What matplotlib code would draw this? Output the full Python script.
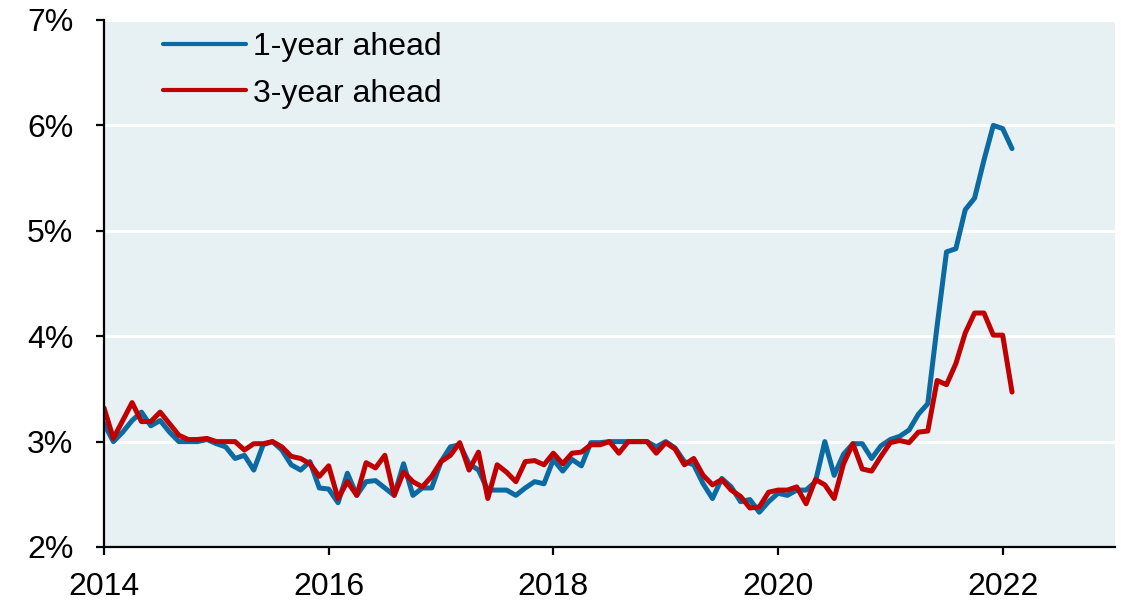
import numpy as np
import matplotlib
matplotlib.use('Agg')
import matplotlib.pyplot as plt
from matplotlib.ticker import FuncFormatter

# monthly readings, first point is Dec 2013, last point Jan 2022
start_year = 2014
one_year = [3.17, 3.00, 3.09, 3.20, 3.28, 3.15, 3.20, 3.09, 3.00, 3.00, 3.00, 3.02,
            2.98, 2.95, 2.84, 2.87, 2.73, 2.97, 3.00, 2.92, 2.78, 2.73, 2.81, 2.56,
            2.55, 2.42, 2.70, 2.49, 2.62, 2.63, 2.56, 2.49, 2.79, 2.49, 2.56, 2.56,
            2.81, 2.95, 2.97, 2.79, 2.73, 2.54, 2.54, 2.54, 2.49, 2.56, 2.62, 2.60,
            2.83, 2.72, 2.83, 2.77, 2.99, 2.99, 3.00, 3.00, 3.00, 3.00, 3.00, 2.95,
            3.00, 2.94, 2.81, 2.78, 2.60, 2.46, 2.65, 2.57, 2.43, 2.45, 2.33, 2.43,
            2.51, 2.49, 2.54, 2.54, 2.62, 3.00, 2.68, 2.88, 2.98, 2.98, 2.84, 2.96,
            3.02, 3.05, 3.11, 3.26, 3.36, 4.10, 4.80, 4.83, 5.20, 5.31, 5.67, 6.00,
            5.97, 5.78]
three_year = [3.32, 3.03, 3.20, 3.37, 3.19, 3.19, 3.28, 3.17, 3.06, 3.02, 3.02, 3.03,
              3.00, 3.00, 3.00, 2.92, 2.98, 2.98, 3.00, 2.95, 2.86, 2.84, 2.79, 2.67,
              2.77, 2.46, 2.62, 2.49, 2.80, 2.75, 2.87, 2.49, 2.71, 2.62, 2.57, 2.67,
              2.81, 2.87, 2.99, 2.73, 2.90, 2.46, 2.78, 2.71, 2.62, 2.81, 2.82, 2.78,
              2.89, 2.79, 2.89, 2.90, 2.97, 2.97, 3.00, 2.89, 3.00, 3.00, 3.00, 2.89,
              2.99, 2.93, 2.78, 2.84, 2.68, 2.59, 2.64, 2.54, 2.48, 2.37, 2.38, 2.52,
              2.54, 2.54, 2.57, 2.41, 2.64, 2.59, 2.46, 2.79, 2.98, 2.74, 2.72, 2.86,
              2.99, 3.01, 2.99, 3.09, 3.10, 3.58, 3.54, 3.74, 4.03, 4.22, 4.22, 4.01,
              4.01, 3.47]
x_ticks = [2014, 2016, 2018, 2020, 2022]
y_ticks = [2, 3, 4, 5, 6, 7]

plt.rcParams['font.family'] = ['Liberation Sans', 'DejaVu Sans']

t = start_year + np.arange(len(one_year)) / 12.0

fig = plt.figure(figsize=(11.21, 6), dpi=100)
ax = fig.add_axes([104 / 1121, 1 - 547 / 600, 1011 / 1121, 527 / 600])
ax.set_facecolor('#e7f0f3')

for y in y_ticks:
    ax.axhline(y, color='white', lw=2.2, zorder=1)

ax.plot(t, one_year, color='#0a6aa1', lw=3.6, label='1-year ahead',
        solid_joinstyle='round', solid_capstyle='round', zorder=3)
ax.plot(t, three_year, color='#c00000', lw=3.6, label='3-year ahead',
        solid_joinstyle='round', solid_capstyle='round', zorder=4)

ax.set_xlim(2014, 2023)
ax.set_ylim(2, 7)
ax.set_xticks(x_ticks)
ax.set_yticks(y_ticks)
ax.yaxis.set_major_formatter(FuncFormatter(lambda v, p: f'{v:.0f}%'))

for side in ['top', 'right']:
    ax.spines[side].set_visible(False)
for side in ['left', 'bottom']:
    ax.spines[side].set_linewidth(1.6)
    ax.spines[side].set_color('black')
    ax.spines[side].set_zorder(5)

ax.tick_params(axis='y', length=6, width=1.6, pad=16, labelsize=23)
ax.tick_params(axis='x', length=6, width=1.6, pad=12, labelsize=23)

leg = ax.legend(loc='upper left', bbox_to_anchor=(59 / 1011, 1 - 12 / 527), frameon=False,
                fontsize=23, handlelength=2.6, handletextpad=0.22, labelspacing=0.52,
                borderpad=0, borderaxespad=0)
for line in leg.get_lines():
    line.set_linewidth(3.0)

fig.savefig('out.png', dpi=100)
